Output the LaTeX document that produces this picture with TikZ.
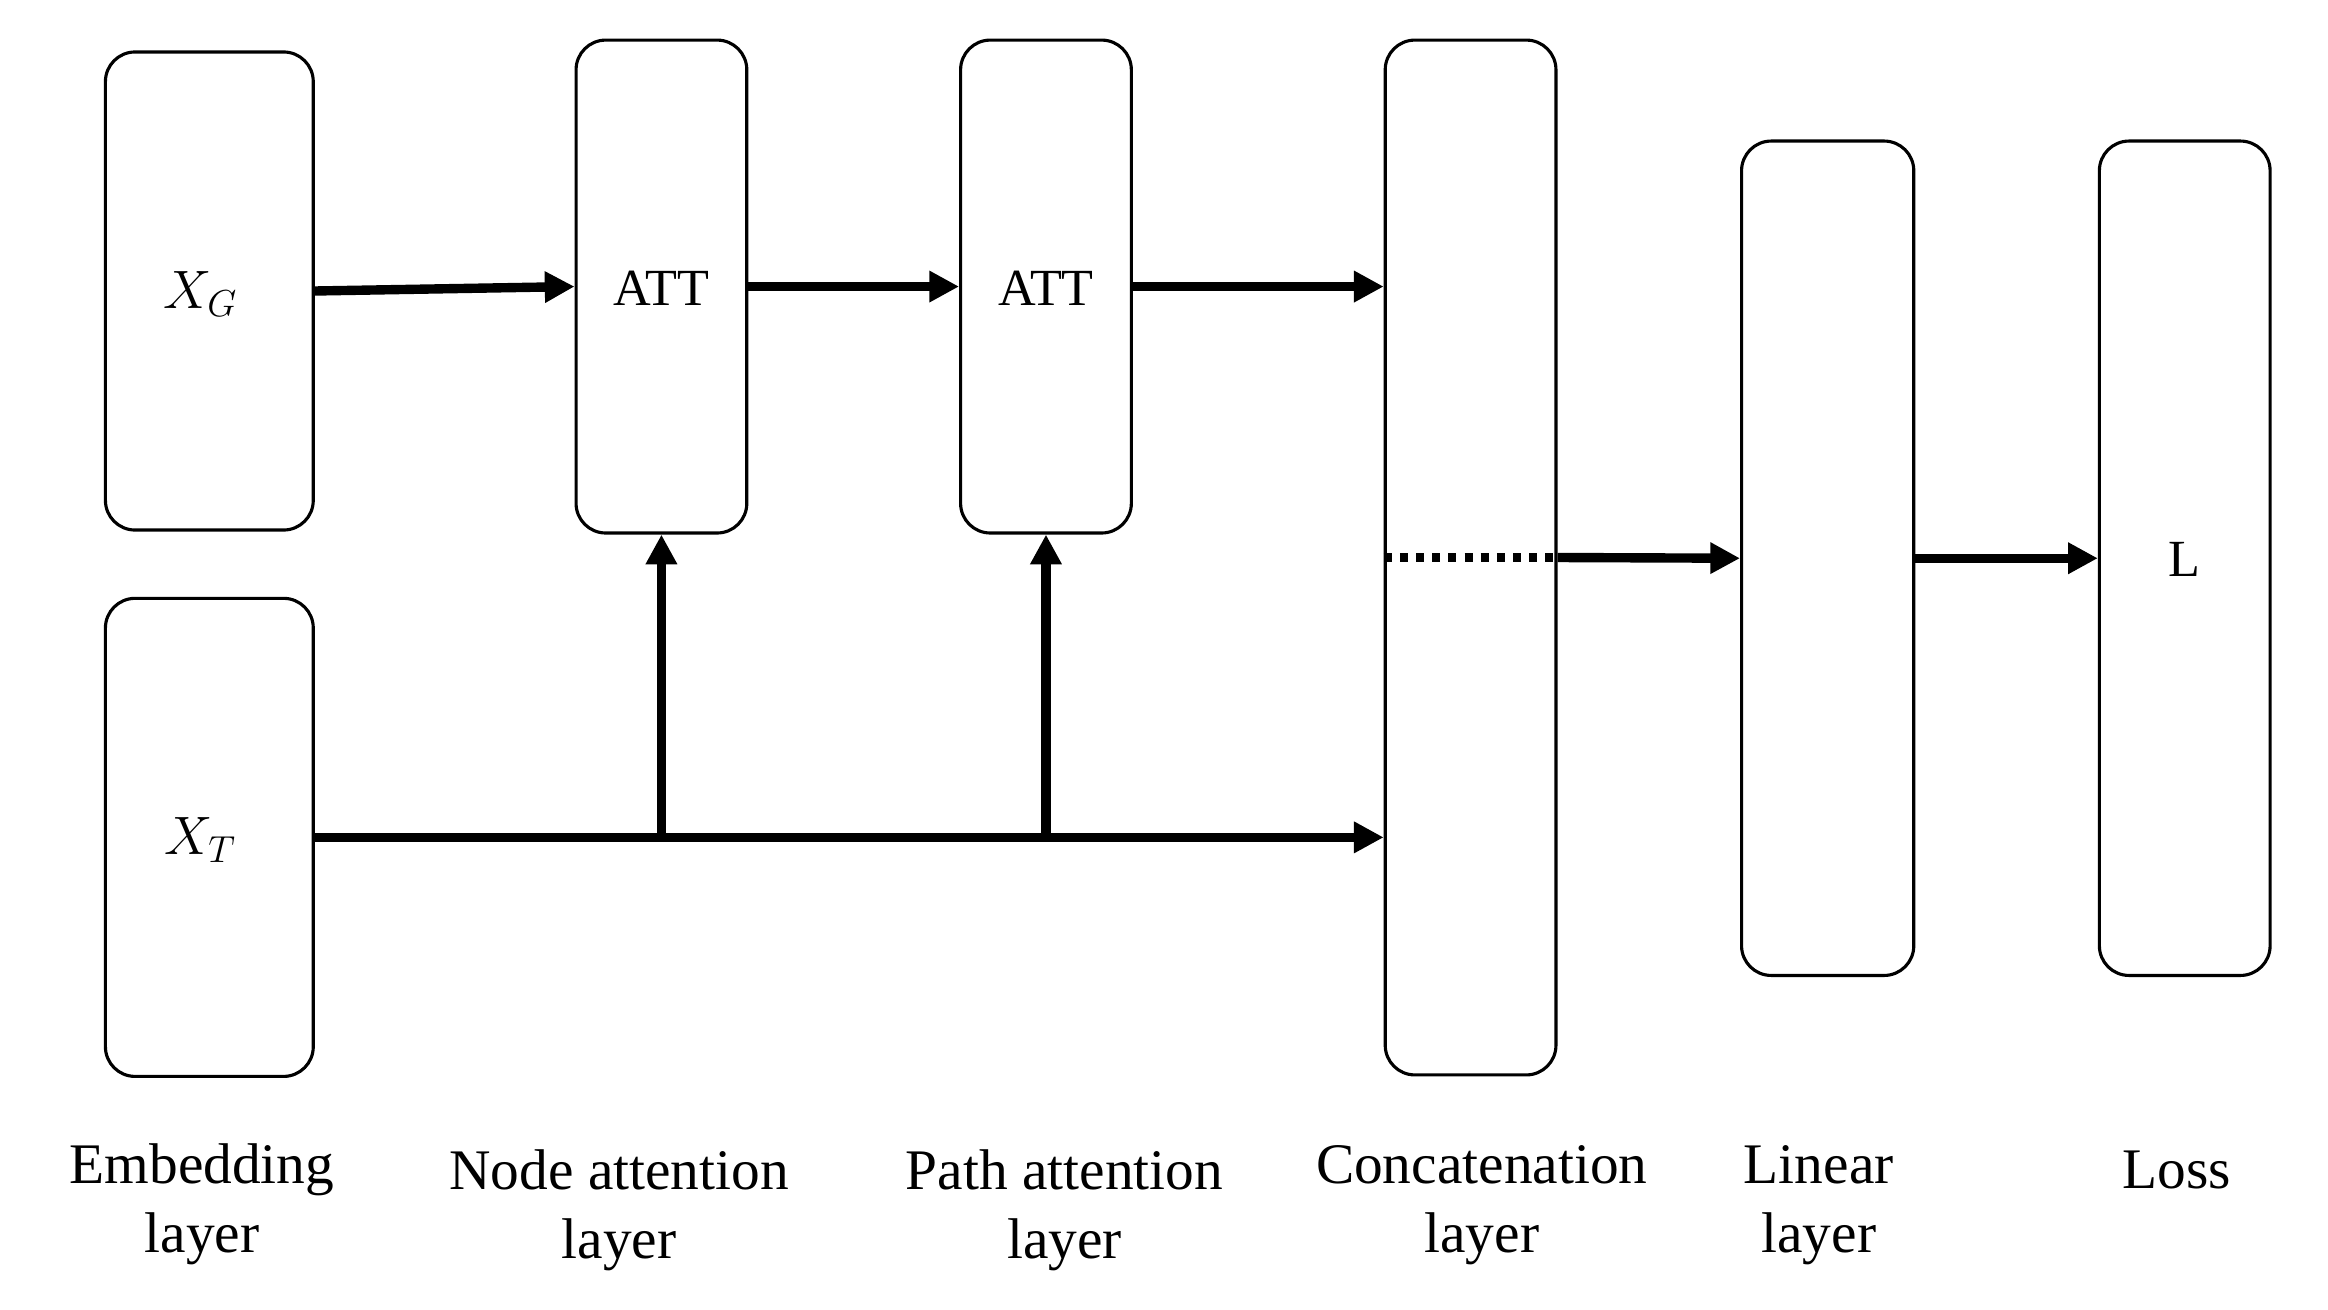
\documentclass[tikz,border=0pt]{standalone}
\usepackage{fontspec}
\setmainfont{Liberation Serif}
\usetikzlibrary{arrows.meta}
\newdimen\pu \pu=0.02cm
\begin{document}
\begin{tikzpicture}[x=0.02cm,y=-0.02cm,
  blk/.style={draw,line width=1.2pt,rounded corners=0.4cm,inner sep=0pt},
  conn/.style={line width=3.6pt,-{Triangle[length=0.4cm,width=0.4cm]}},
  lbl/.style={align=center,font=\fontsize{22}{26.5}\selectfont},
  intext/.style={font=\fontsize{20}{24}\selectfont}]
\useasboundingbox (0,0) rectangle (1568,882);
\node[blk,minimum width=140\pu,minimum height=322\pu] (xg) at (141,196) {};
\node[blk,minimum width=140\pu,minimum height=322\pu] (xt) at (141,564) {};
\node[blk,minimum width=115\pu,minimum height=332\pu] (att1) at (445.5,193) {};
\node[blk,minimum width=115\pu,minimum height=332\pu] (att2) at (704.5,193) {};
\node[blk,minimum width=115\pu,minimum height=697\pu] (cat) at (990.5,375.5) {};
\node[blk,minimum width=116\pu,minimum height=562\pu] (lin) at (1231,376) {};
\node[blk,minimum width=115\pu,minimum height=562\pu] (loss) at (1471.5,376) {};
\node[intext] (txg) at (135,198) {$X_G$};
\node[intext] (txt) at (135,566) {$X_T$};
\node[intext] (tatt1) at (445.5,194) {ATT};
\node[intext] (tatt2) at (704.5,194) {ATT};
\node[intext] (tl) at (1471,377) {L};
\draw[conn] (xg.east) -- (att1.west);
\draw[conn] (att1.east) -- (att2.west);
\draw[conn] (att2.east) -- (att2.east -| cat.west);
\draw[conn] (xt.east) -- (xt.east -| cat.west);
\coordinate (b1) at (att1.south |- xt.east);
\coordinate (b2) at (att2.south |- xt.east);
\draw[conn] (b1) -- (att1.south);
\draw[conn] (b2) -- (att2.south);
\draw[line width=3.6pt,dash pattern=on 3.1pt off 3.1pt] (cat.west) -- (cat.east);
\draw[conn] (cat.east) -- (lin.west);
\draw[conn] (lin.east) -- (loss.west);
\node[lbl] (l1) at (136,811) {Embedding\\layer};
\node[lbl] (l2) at (417,815) {Node attention\\layer};
\node[lbl] (l3) at (717,815) {Path attention\\layer};
\node[lbl] (l4) at (998,812) {Concatenation\\layer};
\node[lbl] (l5) at (1225,812) {Linear\\layer};
\node[lbl] (l6) at (1466,788) {Loss};
\end{tikzpicture}
\end{document}
